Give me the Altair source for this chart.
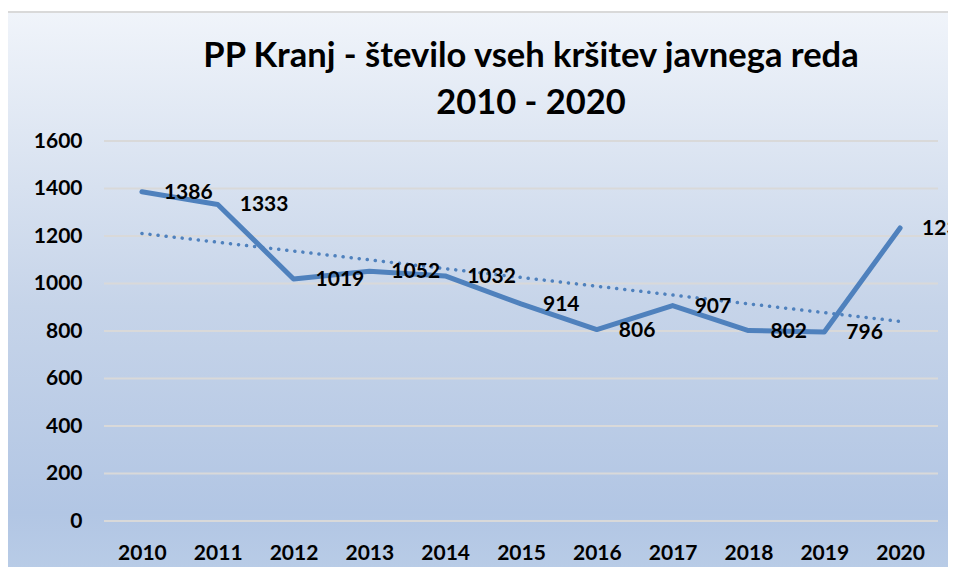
import altair as alt
import pandas as pd

years = [2010, 2011, 2012, 2013, 2014, 2015, 2016, 2017, 2018, 2019, 2020]
values = [1386, 1333, 1019, 1052, 1032, 914, 806, 907, 802, 796, 1234]
y_ticks = [0, 200, 400, 600, 800, 1000, 1200, 1400, 1600]
title_lines = ["PP Kranj - število vseh kršitev javnega reda", "2010 - 2020"]

df = pd.DataFrame({"year": years, "value": values})
grid_df = pd.DataFrame({"tick": y_ticks})

FONT = "Lato"
BLUE = "#4f81bd"
W, H = 834, 380

x_scale = alt.Scale(domain=[2009.5, 2020.5], nice=False, zero=False)
y_scale = alt.Scale(domain=[0, 1600], nice=False)

base = alt.Chart(df)

bg = base.mark_rect(
    fill=alt.LinearGradient(
        gradient="linear", x1=0, y1=0, x2=0, y2=1,
        stops=[
            alt.GradientStop(color="#f0f4fa", offset=0),
            alt.GradientStop(color="#c6d4e9", offset=0.5),
            alt.GradientStop(color="#b2c6e4", offset=0.85),
            alt.GradientStop(color="#bccfe8", offset=1),
        ],
    ),
    stroke="#d9d9d9", strokeWidth=2, clip=False,
).encode(
    x=alt.value(-97), x2=alt.value(W + 40),
    y=alt.value(-129), y2=alt.value(H + 80),
)

grid = alt.Chart(grid_df).mark_rule(color="#d9d9d9", strokeWidth=2).encode(
    y=alt.Y("tick:Q", scale=y_scale), x=alt.value(0), x2=alt.value(W),
)

title1 = alt.Chart(pd.DataFrame({"t": [title_lines[0]]})).mark_text(
    font=FONT, fontSize=34.5, fontWeight="bold", color="#000000", align="center",
    baseline="alphabetic",
).encode(x=alt.value(W / 2 + 10), y=alt.value(-74), text="t:N")

title2 = alt.Chart(pd.DataFrame({"t": [title_lines[1]]})).mark_text(
    font=FONT, fontSize=34.5, fontWeight="bold", color="#000000", align="center",
    baseline="alphabetic",
).encode(x=alt.value(W / 2 + 10), y=alt.value(-27), text="t:N")

line = base.mark_line(color=BLUE, strokeWidth=5, strokeJoin="round", strokeCap="round").encode(
    x=alt.X("year:Q", scale=x_scale,
            axis=alt.Axis(values=years, format="d", title=None, grid=False, domain=False,
                          ticks=False, labelFont=FONT, labelFontSize=21, labelFontWeight="bold",
                          labelColor="#000000", labelPadding=21, zindex=1)),
    y=alt.Y("value:Q", scale=y_scale,
            axis=alt.Axis(values=y_ticks, format="d", title=None, grid=False,
                          domain=False, ticks=False, labelFont=FONT,
                          labelFontSize=21, labelFontWeight="bold", labelColor="#000000",
                          labelPadding=22, zindex=1)),
)

trend = base.transform_regression("year", "value").mark_line(
    color=BLUE, strokeWidth=3.5, strokeDash=[0.1, 8], strokeCap="round"
).encode(x=alt.X("year:Q", scale=x_scale), y=alt.Y("value:Q", scale=y_scale))

labels = base.mark_text(
    align="left", baseline="middle", dx=22, dy=1, font=FONT, fontSize=21,
    fontWeight="bold", color="#000000",
).encode(
    x=alt.X("year:Q", scale=x_scale), y=alt.Y("value:Q", scale=y_scale),
    text=alt.Text("value:Q", format="d"),
)

chart = alt.layer(bg, grid, title1, title2, trend, line, labels).properties(
    width=W, height=H,
    autosize=alt.AutoSizeParams(type="none"),
    padding={"left": 96, "top": 133, "right": 10, "bottom": 46},
).configure_view(stroke=None).configure(background="#ffffff")

chart.save("out.html", embed_options={"renderer": "svg", "actions": False})
